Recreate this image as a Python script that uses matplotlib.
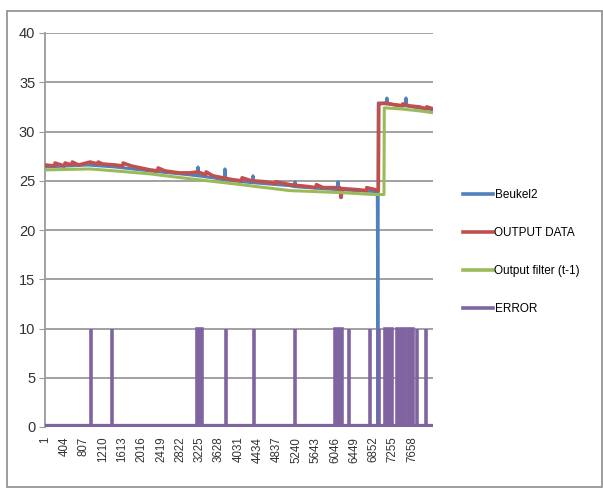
# sensor output vs filter chart, Excel style line chart

import matplotlib
matplotlib.use('Agg')
import matplotlib.pyplot as plt
from matplotlib.patches import Rectangle

plt.rcParams['font.family'] = ['Liberation Sans', 'DejaVu Sans']

# number of samples on the category axis
n_points = 8090
tick_pos = [1, 404, 807, 1210, 1613, 2016, 2419, 2822, 3225, 3628,
            4031, 4434, 4837, 5240, 5643, 6046, 6449, 6852, 7255, 7658]
tick_labels = [str(t) for t in tick_pos]

# Beukel2 (raw sensor)
beukel_x = [1, 900, 1460, 2190, 3023, 3180, 3190, 3200, 3500, 3740, 3753, 3766,
            3920, 4325, 4337, 4350, 5108, 5200, 5213, 5226, 5800, 6095, 6109,
            6122, 6500, 6930, 6943, 6950, 7120, 7130, 7140, 7515, 7527, 7540,
            7800, 8090]
beukel_y = [26.4, 26.6, 26.4, 26.0, 25.6, 25.5, 26.4, 25.5, 25.3, 25.1, 26.2, 25.1,
            25.0, 24.8, 25.5, 24.8, 24.5, 24.4, 24.9, 24.4, 24.2, 24.1, 24.9,
            24.1, 24.0, 23.9, 0.0, 32.9, 32.8, 33.4, 32.8, 32.6, 33.4, 32.6,
            32.4, 32.2]

# OUTPUT DATA
output_x = [1, 200, 210, 400, 420, 560, 570, 700, 940, 1100, 1110, 1200, 1460,
            1620, 1630, 1800, 2190, 2350, 2360, 2500, 2800, 3023, 3190, 3350,
            3360, 3500, 3920, 4100, 4110, 4300, 4600, 4800, 4810, 5108, 5500,
            5650, 5660, 5800, 6151, 6172, 6200, 6500, 6700, 6710, 6880, 6950,
            6960, 7100, 7300, 7450, 7460, 7600, 7800, 7950, 7960, 8090]
output_y = [26.6, 26.5, 26.8, 26.5, 26.8, 26.6, 26.9, 26.6, 26.9, 26.7, 26.9, 26.7,
            26.6, 26.5, 26.8, 26.5, 26.1, 26.0, 26.3, 26.0, 25.8, 25.8, 25.9, 25.6,
            25.9, 25.5, 25.1, 25.0, 25.3, 25.0, 24.9, 24.7, 24.9, 24.6, 24.4,
            24.3, 24.6, 24.3, 24.3, 23.3, 24.2, 24.1, 24.0, 24.3, 24.1, 24.0,
            32.8, 32.9, 32.7, 32.6, 32.8, 32.6, 32.5, 32.3, 32.5, 32.3]

# Output filter (t-1)
filter_x = [1, 938, 1460, 2189, 3023, 3920, 5108, 6151, 6881, 7068, 7075,
            7400, 7800, 8090]
filter_y = [26.1, 26.2, 26.0, 25.7, 25.2, 24.7, 24.0, 23.8, 23.6, 23.6, 32.4,
            32.3, 32.1, 31.9]

# ERROR spikes (start / end sample of each block at value 10)
error_start = [959, 1397, 3169, 3774, 4358, 5213, 6047, 6338, 6776, 6964,
               7089, 7339, 7569, 7756, 7944]
error_end = [960, 1398, 3274, 3775, 4359, 5214, 6192, 6339, 6777, 6965,
             7235, 7506, 7673, 7757, 7945]
error_level = 10

c_blue = '#4F81BD'
c_red = '#C0504D'
c_green = '#9BBB59'
c_purple = '#8064A2'
c_grid = '#9a9a9a'

fig = plt.figure(figsize=(6.03, 4.91), dpi=100)
ax = fig.add_axes([45 / 603, 1 - 427 / 491, 388 / 603, 394 / 491])

# outer chart frame
fig.patches.append(Rectangle((7 / 603, 1 - 487 / 491), 595 / 603, 476 / 491,
                             transform=fig.transFigure, fill=False,
                             edgecolor='#8c8c8c', lw=1.2))

ax.plot(beukel_x, beukel_y, color=c_blue, lw=2.2, label='Beukel2', zorder=3)
ax.plot(output_x, output_y, color=c_red, lw=2.6, label='OUTPUT DATA', zorder=4)
ax.plot(filter_x, filter_y, color=c_green, lw=2.2, label='Output filter (t-1)', zorder=5)

for a, b in zip(error_start, error_end):
    ax.bar(a, error_level, width=b - a, align='edge', color=c_purple,
           edgecolor=c_purple, lw=2.6, zorder=6)
ax.plot([1, n_points], [0, 0], color=c_purple, lw=4.5, label='ERROR', zorder=6)

ax.set_xlim(0.5, n_points + 0.5)
ax.set_ylim(0, 40)
ax.set_yticks(range(0, 41, 5))
ax.set_xticks(tick_pos)
ax.set_xticklabels(tick_labels, rotation=90, fontsize=8.3, color='#333333')
ax.tick_params(axis='x', length=0, pad=7)
ax.tick_params(axis='y', length=4, color=c_grid, labelsize=10.5,
               labelcolor='#333333', pad=3)
ax.grid(axis='y', color=c_grid, lw=1.3)
ax.set_axisbelow(True)
for s in ['top', 'right', 'bottom']:
    ax.spines[s].set_visible(False)
ax.spines['left'].set_color(c_grid)
ax.spines['left'].set_linewidth(1.3)

handles, labels = ax.get_legend_handles_labels()
leg = fig.legend(handles, labels, loc='center left',
                 bbox_to_anchor=(452 / 603, 1 - 252 / 491), frameon=False,
                 fontsize=8.5, handlelength=2.6, handletextpad=0.1,
                 labelspacing=2.2)
for line in leg.get_lines():
    line.set_linewidth(2.6)

fig.savefig('out.png', dpi=100)
